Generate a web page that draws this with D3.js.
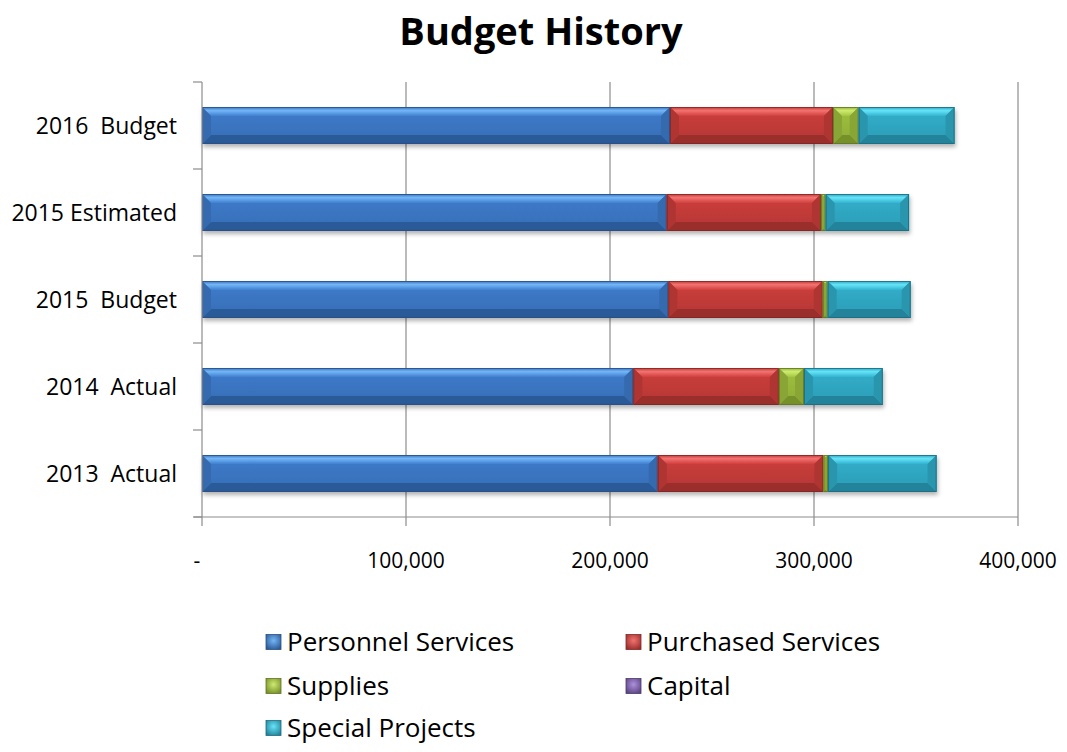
<!DOCTYPE html>
<html>
<head>
<meta charset="utf-8">
<script src="https://cdn.jsdelivr.net/npm/d3@7"></script>
<style>
  html, body { margin: 0; padding: 0; background: #fff; }
  svg { display: block; }
  text { font-family: "Open Sans", "Noto Sans", sans-serif; fill: #000; }
</style>
</head>
<body>
<svg id="chart" width="1067" height="752"></svg>
<script>
// Budget categories, top to bottom
const categories = ["2016  Budget", "2015 Estimated", "2015  Budget", "2014  Actual", "2013  Actual"];

// Series values per category (same order as categories)
const personnelServices = [229400, 227800, 228600, 211400, 223400];
const purchasedServices = [79900, 75600, 75700, 71400, 81200];
const supplies          = [12600, 2300, 2400, 12300, 2300];
const capital           = [0, 0, 0, 0, 0];
const specialProjects   = [47000, 40900, 40700, 38600, 53200];

const seriesNames = ["Personnel Services", "Purchased Services", "Supplies", "Capital", "Special Projects"];
const xTicks = [0, 100000, 200000, 300000, 400000];

// Colour sets: face, highlight, shade, border
const palette = {
  "Personnel Services": { face: "#3b76c2", light: "#74b6f6", dark: "#2c5a98", edge: "#2a4f82" },
  "Purchased Services": { face: "#c23b39", light: "#f27370", dark: "#9a2e2c", edge: "#7f2826" },
  "Supplies":           { face: "#97b83b", light: "#cfea70", dark: "#76912c", edge: "#5f7424" },
  "Capital":            { face: "#7b5da8", light: "#ae90dc", dark: "#5c4582", edge: "#4b386a" },
  "Special Projects":   { face: "#2fa7c2", light: "#66e4f8", dark: "#23839b", edge: "#1d6a7e" }
};

const seriesValues = [personnelServices, purchasedServices, supplies, capital, specialProjects];
const rows = categories.map((c, i) => {
  const r = { category: c };
  seriesNames.forEach((s, k) => { r[s] = seriesValues[k][i]; });
  return r;
});

const svg = d3.select("#chart");
const defs = svg.append("defs");

// soft drop shadow under the bars
const shadow = defs.append("filter").attr("id", "shadow")
  .attr("x", "-5%").attr("y", "-20%").attr("width", "110%").attr("height", "160%");
shadow.append("feDropShadow").attr("dx", 1).attr("dy", 3).attr("stdDeviation", 2)
  .attr("flood-color", "#000").attr("flood-opacity", 0.3);

// gradients for the bar faces and highlights
seriesNames.forEach((s, k) => {
  const p = palette[s];
  const g = defs.append("linearGradient").attr("id", "face" + k)
    .attr("x1", 0).attr("y1", 0).attr("x2", 0).attr("y2", 1);
  g.append("stop").attr("offset", "0%").attr("stop-color", d3.color(p.face).brighter(0.15));
  g.append("stop").attr("offset", "100%").attr("stop-color", d3.color(p.face).darker(0.2));
  const t = defs.append("linearGradient").attr("id", "top" + k)
    .attr("x1", 0).attr("y1", 0).attr("x2", 0).attr("y2", 1);
  t.append("stop").attr("offset", "0%").attr("stop-color", p.face);
  t.append("stop").attr("offset", "40%").attr("stop-color", p.light);
  t.append("stop").attr("offset", "100%").attr("stop-color", d3.color(p.face).brighter(0.2));
  const lg = defs.append("radialGradient").attr("id", "key" + k)
    .attr("cx", "50%").attr("cy", "40%").attr("r", "65%");
  lg.append("stop").attr("offset", "0%").attr("stop-color", p.light);
  lg.append("stop").attr("offset", "100%").attr("stop-color", p.dark);
});

const plot = { left: 202, right: 1018, top: 82, bottom: 517 };

const x = d3.scaleLinear().domain([0, 400000]).range([plot.left, plot.right]);
const y = d3.scaleBand().domain(categories).range([plot.top, plot.bottom])
  .paddingInner(0.575).paddingOuter(0.2875);

// Title
svg.append("text")
  .attr("x", 541).attr("y", 45)
  .attr("text-anchor", "middle")
  .style("font-size", "38px").style("font-weight", "bold")
  .text("Budget History");

// Vertical gridlines
svg.append("g").selectAll("line").data(xTicks.slice(1)).join("line")
  .attr("x1", d => x(d)).attr("x2", d => x(d))
  .attr("y1", plot.top).attr("y2", plot.bottom)
  .attr("stroke", "#8c8c8c").attr("stroke-width", 1.2);

// Stacked bars with bevelled faces
const stack = d3.stack().keys(seriesNames)(rows);
const barsG = svg.append("g").attr("filter", "url(#shadow)");
const poly = pts => pts.map(q => q.join(",")).join(" ");

stack.forEach((layer, k) => {
  const p = palette[layer.key];
  layer.forEach(d => {
    const x0 = x(d[0]), x1 = x(d[1]);
    const w = x1 - x0;
    if (w <= 0) return;
    const y0 = y(d.data.category), h = y.bandwidth(), y1 = y0 + h;
    const b = Math.min(9, w / 2, h / 2);
    const g = barsG.append("g");
    g.append("rect").attr("x", x0).attr("y", y0).attr("width", w).attr("height", h)
      .attr("fill", `url(#face${k})`);
    g.append("polygon").attr("points", poly([[x0, y0], [x1, y0], [x1 - b, y0 + b], [x0 + b, y0 + b]]))
      .attr("fill", `url(#top${k})`);
    g.append("polygon").attr("points", poly([[x0, y1], [x1, y1], [x1 - b, y1 - b], [x0 + b, y1 - b]]))
      .attr("fill", p.dark);
    g.append("polygon").attr("points", poly([[x0, y0], [x0 + b, y0 + b], [x0 + b, y1 - b], [x0, y1]]))
      .attr("fill", d3.color(p.face).darker(0.3));
    g.append("polygon").attr("points", poly([[x1, y0], [x1 - b, y0 + b], [x1 - b, y1 - b], [x1, y1]]))
      .attr("fill", d3.color(p.face).darker(0.3));
    g.append("rect").attr("x", x0 + 0.5).attr("y", y0 + 0.5).attr("width", Math.max(0, w - 1)).attr("height", h - 1)
      .attr("fill", "none").attr("stroke", p.edge).attr("stroke-width", 1).attr("stroke-opacity", 0.8);
  });
});

// Y axis line with category separators
const axisColor = "#8c8c8c";
const yAxis = svg.append("g");
yAxis.append("line").attr("x1", plot.left).attr("x2", plot.left)
  .attr("y1", plot.top).attr("y2", plot.bottom).attr("stroke", axisColor).attr("stroke-width", 1.2);
const boundaries = categories.map((c, i) => plot.top + i * y.step()).concat([plot.bottom]);
yAxis.selectAll("line.tick").data(boundaries).join("line").attr("class", "tick")
  .attr("x1", plot.left - 9).attr("x2", plot.left)
  .attr("y1", d => d).attr("y2", d => d)
  .attr("stroke", axisColor).attr("stroke-width", 1.2);
yAxis.selectAll("text").data(categories).join("text")
  .attr("x", 177).attr("y", d => y(d) + y.bandwidth() / 2)
  .attr("dy", "0.36em").attr("text-anchor", "end")
  .style("font-size", "23px")
  .style("white-space", "pre")
  .attr("xml:space", "preserve")
  .text(d => d);

// X axis
const xAxis = svg.append("g");
xAxis.append("line").attr("x1", plot.left - 8).attr("x2", plot.right)
  .attr("y1", plot.bottom).attr("y2", plot.bottom).attr("stroke", axisColor).attr("stroke-width", 1.2);
xAxis.selectAll("line.tick").data(xTicks).join("line").attr("class", "tick")
  .attr("x1", d => x(d)).attr("x2", d => x(d))
  .attr("y1", plot.bottom).attr("y2", plot.bottom + 9)
  .attr("stroke", axisColor).attr("stroke-width", 1.2);
const fmt = d3.format(",");
xAxis.selectAll("text").data(xTicks).join("text")
  .attr("x", d => d === 0 ? x(d) - 5 : x(d))
  .attr("y", 568)
  .attr("text-anchor", "middle")
  .style("font-size", "21px")
  .text(d => d === 0 ? "-" : fmt(d));

// Legend, two columns
const legendPos = [
  [266, 642], [626, 642],
  [266, 686], [626, 686],
  [266, 728]
];
const legend = svg.append("g");
seriesNames.forEach((s, k) => {
  const [lx, ly] = legendPos[k];
  const p = palette[s];
  legend.append("rect").attr("x", lx).attr("y", ly - 7.5).attr("width", 15).attr("height", 15)
    .attr("fill", `url(#key${k})`).attr("stroke", p.edge).attr("stroke-width", 0.8);
  legend.append("text").attr("x", lx + 21).attr("y", ly).attr("dy", "0.36em")
    .style("font-size", "26px").text(s);
});
</script>
</body>
</html>
